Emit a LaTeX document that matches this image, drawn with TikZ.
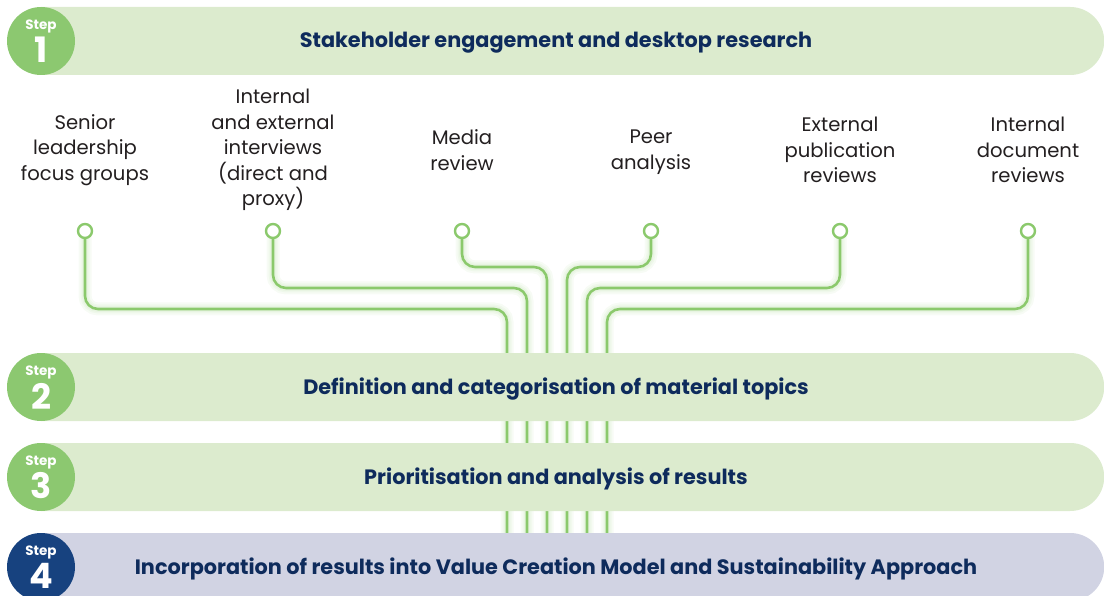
\documentclass[tikz,border=0pt]{standalone}
\usepackage{fontspec}
\setmainfont{Poppins}
\usetikzlibrary{shapes.misc}
\definecolor{barGreen}{HTML}{DCEBCE}
\definecolor{discGreen}{HTML}{8CC870}
\definecolor{wireGreen}{HTML}{8BC96C}
\definecolor{barLav}{HTML}{D1D3E3}
\definecolor{discNavy}{HTML}{17427F}
\definecolor{headNavy}{HTML}{0E2B5C}
\definecolor{labelInk}{HTML}{231F20}
\tikzset{
  bar/.style={rounded rectangle, rounded rectangle left arc=none,
    minimum width=1063pt, minimum height=68pt, inner sep=0pt, anchor=west, draw=none},
  stepdisc/.style={circle, minimum size=68pt, inner sep=0pt, draw=none},
  steptag/.style={text=white, inner sep=0pt, font=\fontsize{13.5}{14}\selectfont\bfseries},
  stepnum/.style={text=white, inner sep=0pt, font=\fontsize{35}{36}\selectfont\bfseries},
  heading/.style={text=headNavy, font=\fontsize{20.8}{22}\selectfont\bfseries},
  label/.style={text=labelInk, align=center, font=\fontsize{19.6}{25.5}\selectfont},
  port/.style={circle, draw=wireGreen, fill=white, line width=2.4pt, minimum size=14pt, inner sep=0pt},
  wire/.style={draw=wireGreen, line width=2.6pt, rounded corners=13pt},
  halo/.style={draw=wireGreen, rounded corners=13pt, line width=#1, opacity=0.07},
}
\begin{document}
\begin{tikzpicture}[x=1pt,y=-1pt]
\useasboundingbox (0,0) rectangle (1104,596);
\clip (0,0) rectangle (1104,596);

% input sources: port position, turning height, trunk position
\foreach \i/\px/\ty/\tx in {1/85/309/507, 2/273/288/527, 3/462/267/547,
                             4/651/267/567, 5/840/288/587, 6/1028/309/607}{
  \coordinate (top\i) at (\px,231);
  \coordinate (j\i) at (\tx,\ty);
  \coordinate (e\i) at (\tx,560);
}
% soft glow under the wires
\foreach \i in {1,...,6}{
  \draw[halo=13pt] (top\i) |- (j\i) -- (e\i);
  \draw[halo=9pt] (top\i) |- (j\i) -- (e\i);
  \draw[halo=6pt] (top\i) |- (j\i) -- (e\i);
}
% wires
\foreach \i in {1,...,6}{
  \draw[wire] (top\i) |- (j\i) -- (e\i);
}
% ports
\foreach \i in {1,...,6}{
  \node[port] (p\i) at (top\i) {};
}

% source labels
\node[label] (l1) at (85,150) {Senior\\leadership\\focus groups};
\node[label] (l2) at (273,150) {Internal\\and external\\interviews\\(direct and\\proxy)};
\node[label] (l3) at (462,150) {Media\\review};
\node[label] (l4) at (651,152) {Peer\\analysis};
\node[label] (l5) at (840,150) {External\\publication\\reviews};
\node[label] (l6) at (1028,150) {Internal\\document\\reviews};

% step bars
\node[bar, fill=barGreen] (b1) at (41,41) {};
\node[bar, fill=barGreen] (b2) at (41,387) {};
\node[bar, fill=barGreen] (b3) at (41,477) {};
\node[bar, fill=barLav] (b4) at (41,567) {};

% step discs
\node[stepdisc, fill=discGreen] (s1) at (41,41) {};
\node[stepdisc, fill=discGreen] (s2) at (41,387) {};
\node[stepdisc, fill=discGreen] (s3) at (41,477) {};
\node[stepdisc, fill=discNavy] (s4) at (41,567) {};

\foreach \i in {1,...,4}{
  \node[steptag] (t\i) at ([yshift=15pt]s\i.center) {Step};
  \node[stepnum] (n\i) at ([yshift=-9pt]s\i.center) {\i};
}

% step headings
\node[heading] (h1) at (556,43) {Stakeholder engagement and desktop research};
\node[heading] (h2) at (556,389) {Definition and categorisation of material topics};
\node[heading] (h3) at (556,479) {Prioritisation and analysis of results};
\node[heading] (h4) at (556,569) {Incorporation of results into Value Creation Model and Sustainability Approach};
\end{tikzpicture}
\end{document}
